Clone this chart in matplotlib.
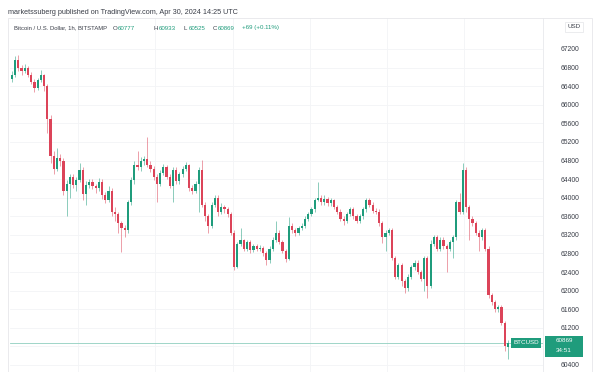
import matplotlib
import matplotlib.pyplot as plt
from matplotlib.patches import Rectangle

matplotlib.use('Agg')

# hourly BTC/USD candles (Apr 24 03:00 -> Apr 30 14:00 UTC)
opens = [66560, 66640, 66960, 66790, 66720, 66800, 66650, 66500, 66360, 66530,
         66640, 66400, 65700, 64900, 64620, 64850, 64800, 64150, 64300, 64450,
         64280, 64380, 64600, 64080, 64280, 64330, 64250, 64200, 64340, 64060,
         63950, 64150, 63700, 63650, 63450, 63350, 63300, 63900, 64380, 64700,
         64650, 64800, 64830, 64700, 64620, 64450, 64300, 64530, 64650, 64450,
         64250, 64600, 64350, 64500, 64620, 64700, 64200, 64150, 64300, 64600,
         63850, 63600, 63400, 63850, 64000, 63700, 63800, 63750, 63650, 63240,
         62510, 63000, 63080, 62900, 63050, 62880, 62950, 62900, 62920, 62800,
         62650, 62900, 63100, 63250, 63050, 62850, 62680, 63400, 63300, 63250,
         63350, 63400, 63550, 63650, 63750, 63950, 64000, 63900, 63980, 63880,
         63950, 63800, 63700, 63550, 63500, 63650, 63750, 63600, 63500, 63600,
         63750, 63950, 63850, 63720, 63700, 63450, 63150, 63250, 63300, 62700,
         62300, 62550, 62200, 62050, 62300, 62500, 62600, 62400, 62250, 62700,
         62100, 63000, 63150, 62900, 63100, 62950, 62900, 63050, 63150, 63900,
         63700, 64600, 63800, 63550, 63450, 63250, 63150, 63300, 62900, 61900,
         61750, 61600, 61650, 61300, 60777]
highs = [66720, 67050, 67070, 66850, 66880, 66830, 66700, 66560, 66580, 66750,
         66660, 66450, 65780, 65000, 65060, 64950, 64850, 64380, 64520, 64500,
         64450, 64750, 64650, 64350, 64400, 64400, 64300, 64420, 64400, 64120,
         64250, 64200, 63800, 63700, 63500, 63420, 63950, 64450, 64800, 65000,
         64880, 64900, 65300, 64780, 64680, 64500, 64600, 64720, 64700, 64500,
         64650, 64650, 64560, 64680, 64760, 64720, 64280, 64350, 64650, 64810,
         63900, 63650, 63900, 64050, 64050, 63880, 63850, 63800, 63700, 63300,
         63050, 63350, 63120, 63100, 63100, 63000, 63000, 62980, 62960, 62850,
         62950, 63150, 63500, 63300, 63100, 62900, 63580, 63450, 63350, 63400,
         63450, 63600, 63700, 63800, 64000, 64340, 64050, 64050, 64020, 64000,
         63980, 63850, 63750, 63600, 63700, 63800, 63800, 63650, 63650, 63800,
         64000, 64000, 63900, 63780, 63750, 63500, 63300, 63350, 63350, 62750,
         62600, 62600, 62250, 62350, 62550, 62650, 62650, 62450, 62750, 62750,
         63100, 63200, 63200, 63150, 63150, 63000, 63100, 63200, 63950, 64100,
         64750, 64650, 63850, 63600, 63500, 63300, 63350, 63350, 62950, 61950,
         61800, 61700, 61700, 61350, 60933]
lows = [66500, 66600, 66720, 66650, 66680, 66600, 66440, 66280, 66320, 66480,
        66300, 65400, 64750, 64520, 64580, 64680, 64050, 63600, 64000, 64200,
        64150, 64330, 63950, 63850, 64200, 64180, 64100, 64150, 63980, 63880,
        63900, 63600, 63500, 63250, 62830, 63150, 63250, 63850, 64300, 64600,
        64580, 64700, 64650, 64550, 64380, 63900, 64250, 64480, 64400, 64200,
        63900, 64300, 64300, 64450, 64580, 64150, 64080, 64100, 63700, 63800,
        63500, 63250, 63350, 63800, 63600, 63650, 63680, 63580, 63200, 62440,
        62480, 62950, 62850, 62850, 62800, 62830, 62850, 62850, 62750, 62550,
        62600, 62850, 63050, 63000, 62800, 62620, 62650, 63250, 63180, 63200,
        63300, 63350, 63500, 63600, 63700, 63920, 63850, 63850, 63820, 63830,
        63750, 63650, 63500, 63420, 63450, 63600, 63550, 63450, 63450, 63550,
        63700, 63800, 63680, 63650, 63400, 63020, 62850, 63200, 62650, 62250,
        62250, 62100, 61950, 62000, 62250, 62450, 62350, 62200, 62000, 61840,
        62050, 62950, 62850, 62850, 62900, 62400, 62850, 62700, 63100, 63650,
        63650, 63700, 63100, 63400, 63200, 62850, 63100, 62850, 61850, 61700,
        61550, 61550, 61250, 60700, 60525]
closes = [66640, 66960, 66790, 66720, 66800, 66650, 66500, 66360, 66530, 66640,
          66400, 65700, 64900, 64620, 64850, 64800, 64150, 64300, 64450, 64280,
          64380, 64600, 64080, 64280, 64330, 64250, 64200, 64340, 64060, 63950,
          64150, 63700, 63650, 63450, 63350, 63300, 63900, 64380, 64700, 64650,
          64800, 64830, 64700, 64620, 64450, 64300, 64530, 64650, 64450, 64250,
          64600, 64350, 64500, 64620, 64700, 64200, 64150, 64300, 64600, 63850,
          63600, 63400, 63850, 64000, 63700, 63800, 63750, 63650, 63240, 62510,
          63000, 63080, 62900, 63050, 62880, 62950, 62900, 62920, 62800, 62650,
          62900, 63100, 63250, 63050, 62850, 62680, 63400, 63300, 63250, 63350,
          63400, 63550, 63650, 63750, 63950, 64000, 63900, 63980, 63880, 63950,
          63800, 63700, 63550, 63500, 63650, 63750, 63600, 63500, 63600, 63750,
          63950, 63850, 63720, 63700, 63450, 63150, 63250, 63300, 62700, 62300,
          62550, 62200, 62050, 62300, 62500, 62600, 62400, 62250, 62700, 62100,
          63000, 63150, 62900, 63100, 62950, 62900, 63050, 63150, 63900, 63700,
          64600, 63800, 63550, 63450, 63250, 63150, 63300, 62900, 61900, 61750,
          61600, 61650, 61300, 60800, 60869]

price_ticks = [60400, 60800, 61200, 61600, 62000, 62400, 62800, 63200, 63600,
               64000, 64400, 64800, 65200, 65600, 66000, 66400, 66800, 67200]
hidden_tick = 60800  # covered by the last-price label on the scale
day_starts = [20.5, 44.5, 68.5, 92.5, 116.5, 140.5]  # candle index of midnight UTC
last_price = 60869

UP = '#1f9c7c'
DOWN = '#dc4459'
TEXT = '#3a3e48'

W, H = 600, 372
fig = plt.figure(figsize=(6, 3.72), dpi=100)
plt.rcParams['font.family'] = ['Liberation Sans', 'DejaVu Sans']


def px(x, y):
    # pixel position -> figure fraction
    return x / W, 1 - y / H


ax = fig.add_axes([10 / W, 0, 533 / W, 354 / H])
ax.set_xlim(-0.6, 164.9)
ax.set_ylim(60249, 67867)

for d in day_starts:
    ax.axvline(d, color='#f3f4f6', lw=0.6, zorder=0)
for t in price_ticks:
    ax.axhline(t, color='#f3f4f6', lw=0.6, zorder=0)

for i in range(len(closes)):
    col = UP if closes[i] >= opens[i] else DOWN
    ax.vlines(i, lows[i], highs[i], color=col, lw=0.6, alpha=0.6, zorder=2)
    lo = min(opens[i], closes[i])
    ax.bar(i, max(abs(closes[i] - opens[i]), 15), bottom=lo, width=0.68,
           color=col, lw=0, zorder=3)

ax.axhline(last_price, color='#8fcfbf', lw=0.6, zorder=1)

ax.yaxis.tick_right()
ax.set_yticks(price_ticks)
ax.set_yticklabels(['' if t == hidden_tick else str(t) for t in price_ticks])
ax.tick_params(axis='y', length=0, pad=13, labelsize=4.9, labelcolor=TEXT)
ax.set_xticks([])
for s in ['top', 'left', 'bottom']:
    ax.spines[s].set_visible(False)
ax.spines['right'].set_color('#e8e9ec')
ax.spines['right'].set_linewidth(0.6)

# outer panel frame
fig.add_artist(Rectangle(px(8, 372), 584 / W, 354 / H, transform=fig.transFigure,
                         fill=False, ec='#e6e7ea', lw=0.6))

# header lines
fig.text(*px(8, 13), 'marketssuberg published on TradingView.com, Apr 30, 2024 14:25 UTC',
         fontsize=5.2, color=TEXT, va='center')
fig.text(*px(14, 28), 'Bitcoin / U.S. Dollar, 1h, BITSTAMP', fontsize=4.2,
         color=TEXT, va='center')
for label, val, x in [('O', '60777', 113), ('H', '60933', 154),
                      ('L', '60525', 184), ('C', '60869', 213)]:
    fig.text(*px(x, 28), label, fontsize=4.4, color=TEXT, va='center')
    fig.text(*px(x + 4.5, 28), val, fontsize=4.4, color=UP, va='center')
fig.text(*px(242, 28), '+69 (+0.11%)', fontsize=4.4, color=UP, va='center')

# price scale header
fig.text(*px(574, 27), 'USD', fontsize=4.5, color=TEXT, va='center', ha='center',
         bbox=dict(boxstyle='square,pad=0.4', fc='white', ec='#e3e4e8', lw=0.5))

# last price labels
fig.text(*px(526, 343), 'BTCUSD', fontsize=4.5, color='white', va='center',
         ha='center', bbox=dict(boxstyle='square,pad=0.35', fc=UP, ec='none'))
fig.add_artist(Rectangle(px(545, 357), 38 / W, 21 / H, transform=fig.transFigure,
                         fc=UP, ec='none', zorder=5))
fig.text(*px(564, 341), '60869', fontsize=4.5, color='white', va='center',
         ha='center', zorder=6)
fig.text(*px(564, 351), '34:51', fontsize=4.5, color='white', va='center',
         ha='center', zorder=6)

fig.savefig('out.png', dpi=100)
